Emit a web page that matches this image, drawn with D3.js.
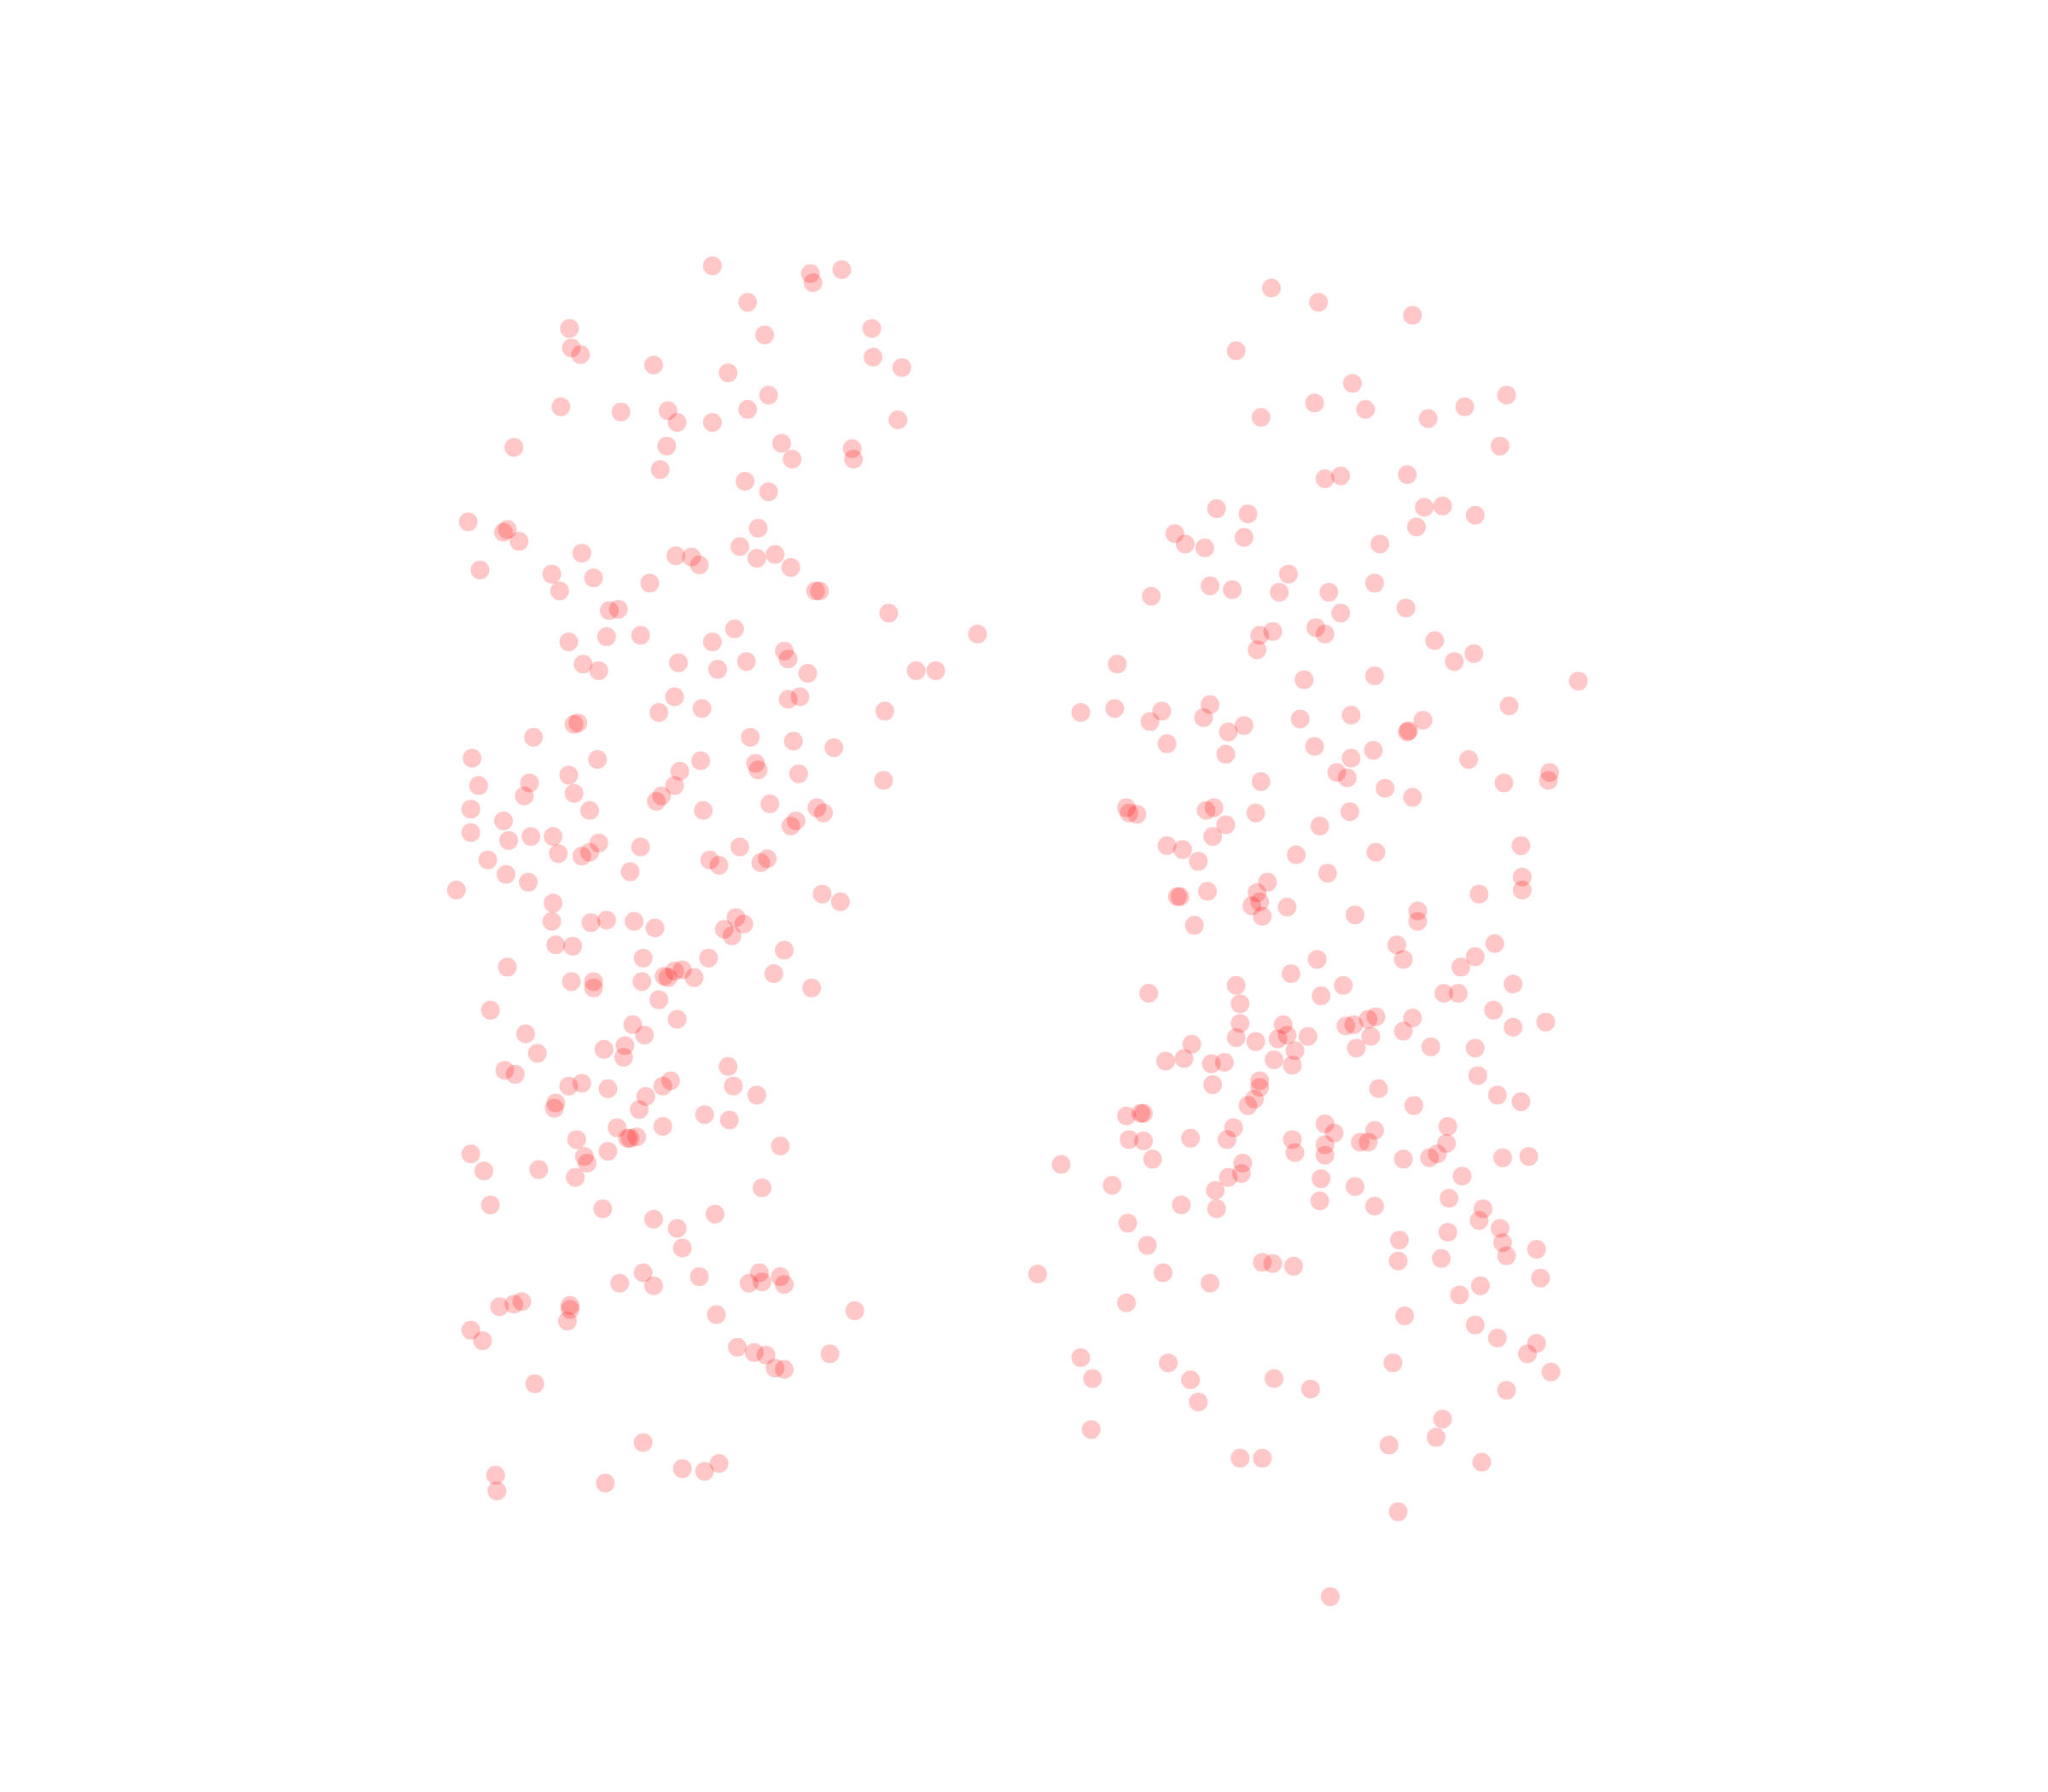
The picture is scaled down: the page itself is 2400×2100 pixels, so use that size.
<!DOCTYPE html>
<html><head><meta charset="utf-8">
<style>html,body{margin:0;padding:0;background:#fff}svg{display:block}</style>
<script src="https://cdn.jsdelivr.net/npm/d3@7/dist/d3.min.js"></script>
</head><body><div id="chart"></div>
<script>
const groupA = [[545,203],[572,231],[620,209],[622,216],[644,206],[585,256],[667,251],[435.5,251],[437,266],[444,271],[500,279],[557,285],[668,273],[690,281],[588,302],[429,311],[475,315],[511,314],[518,323],[545,323],[572,313],[687,321],[393,342],[510,341],[505,359],[598,339],[606,351],[652,343],[653,351],[570,368],[588,376],[358,399],[385,407],[388,405],[397,414],[580,404],[566,418],[445,423],[517,425],[529,426],[535,432],[579,427],[593,424],[605,434],[367,436],[422,439],[454,442],[428,452],[497,446],[624,452],[627,452],[466,467],[473,466],[680,469],[562,481],[435,491],[464,487],[490,486],[545,491],[600,498],[603,504],[748,485],[446,508],[458,513],[519,507],[549,512],[571,506],[618,515],[701,513],[716,513],[516,533],[603,535],[612,533],[504,545],[537,542],[677,544],[439,554],[442,553],[408,564],[574,564],[607,567],[638,572],[361,580],[457,581],[536,582],[578,584],[580,589],[435,593],[520,590],[611,592],[676,597],[366,601],[405,599],[401,609],[439,607],[516,601],[506,609],[502,613],[589,615],[360,619],[451,620],[538,620],[625,618],[630,622],[385,628],[609,628],[605,632],[360,637],[389,643],[406,640],[423,640],[427,653],[445,655],[451,652],[458,645],[490,648],[566,648],[587,657],[582,660],[543,658],[550,662],[373,658],[387,669],[404,675],[482,667],[349,681],[629,684],[643,690],[423,691],[422,705],[452,706],[464,704],[485,705],[501,710],[554,711],[563,702],[569,707],[560,716],[425,723],[438,724],[600,727],[492,733],[542,733],[388,740],[592,745],[437,751],[454,751],[454,756],[491,751],[508,747],[511,748],[516,743],[522,742],[531,748],[621,756],[504,765],[375,773],[484,784],[518,780],[402,791],[493,792],[478,800],[462,803],[477,809],[411,806],[557,816],[386,819],[394,822],[435,831],[445,829],[465,833],[507,831],[513,827],[561,831],[494,839],[579,838],[425,844],[424,848],[489,849],[539,853],[558,857],[472,863],[507,862],[441,872],[480,871],[482,871],[487,870],[597,877],[465,881],[360,883],[447,885],[449,890],[370,896],[412,895],[440,901],[583,909],[375,922],[461,925],[547,929],[500,933],[518,940],[522,955],[492,974],[474,982],[500,984],[535,977],[581,974],[573,982],[583,981],[597,977],[600,983],[382,1000],[393,998],[399,996],[436,999],[436,1002],[434,1011],[548,1006],[654,1003],[360,1018],[369,1026],[564,1031],[577,1035],[586,1037],[635,1036],[593,1047],[600,1048],[409,1059],[492,1104],[379,1129],[380,1141],[463,1135],[522,1124],[539,1126],[550,1120]];
const groupB = [[973,220],[1009,231],[1081,241],[946,268],[1035,293],[1006,308],[1045,313],[965,319],[1093,320],[1121,311],[1153,302],[1148,341],[1014,366],[1026,364],[1077,363],[931,389],[955,393],[1090,388],[1104,387],[1129,394],[1084,403],[899,408],[907,416],[922,419],[952,411],[1056,416],[986,439],[1052,446],[926,448],[943,451],[979,453],[1017,453],[881,456],[1026,469],[1076,465],[1007,480],[1014,485],[964,486],[974,483],[962,497],[1098,490],[1128,500],[1113,506],[855,508],[998,520],[1052,517],[1208,521],[1155,540],[827,545],[853,542],[889,544],[880,552],[921,549],[926,539],[952,555],[940,560],[995,550],[1034,547],[1089,551],[1078,559],[1077,560],[893,569],[1006,571],[938,577],[1051,574],[1034,580],[1124,581],[1023,591],[1031,595],[965,598],[1186,591],[1185,597],[1151,599],[1060,603],[1081,610],[862,618],[864,622],[870,623],[923,620],[929,618],[961,622],[1033,621],[938,631],[1010,632],[928,640],[893,647],[905,650],[917,659],[992,654],[1053,652],[1164,647],[1016,668],[1165,671],[1165,681],[970,675],[924,682],[962,683],[901,686],[903,686],[1132,684],[958,693],[964,690],[985,694],[966,701],[1037,700],[914,708],[1085,697],[1085,705],[1069,723],[1144,722],[1074,734],[1129,732],[1118,740],[1008,734],[988,745],[946,754],[1028,754],[1158,753],[879,760],[1011,762],[1105,760],[1116,760],[949,768],[1143,773],[949,783],[982,784],[1030,785],[1036,784],[1047,780],[1053,778],[1081,779],[1158,786],[1183,782],[946,794],[961,797],[978,795],[985,792],[1001,793],[1049,793],[1074,789],[912,799],[991,804],[1038,802],[1095,801],[1129,802],[892,812],[906,810],[927,814],[937,813],[975,811],[989,815],[1131,823],[928,830],[964,827],[964,832],[1055,833],[1146,838],[1164,843],[1082,846],[960,841],[955,846],[862,854],[873,852],[875,852],[1014,860],[1021,867],[1052,865],[1108,862],[944,863],[864,872],[875,873],[911,871],[939,872],[989,872],[1014,876],[1041,874],[1047,874],[1107,875],[991,882],[1014,884],[882,887],[812,891],[951,890],[1074,887],[1094,886],[1100,883],[1150,886],[1170,885],[940,901],[950,898],[1011,902],[1119,900],[851,907],[930,911],[1037,908],[1010,919],[904,922],[931,925],[1052,923],[1109,917],[1135,925],[1132,934],[863,936],[1148,940],[1108,943],[1071,949],[878,953],[1150,951],[1176,956],[1153,961],[1103,963],[1070,965],[966,966],[974,967],[990,969],[794,975],[890,974],[926,982],[1179,978],[1133,984],[1117,991],[862,997],[1075,1007],[1129,1014],[1146,1024],[1176,1028],[1169,1036],[827,1039],[894,1043],[1066,1043],[1187,1050],[836,1055],[911,1056],[975,1055],[1003,1063],[1153,1064],[917,1073],[1104,1086],[835,1094],[1099,1100],[1063,1106],[949,1116],[966,1116],[1134,1119],[1070,1157],[1018,1222]];

const W = 2400, H = 2100;
const x = d3.scaleLinear().domain([0,1568]).range([0.7,W+0.7]);
const y = d3.scaleLinear().domain([0,1372]).range([0.7,H+0.7]);
const svg = d3.select("#chart").append("svg").attr("width",W).attr("height",H);
[groupA, groupB].forEach(points => {
  svg.append("g").selectAll("circle").data(points).join("circle")
    .attr("cx", d => x(d[0])).attr("cy", d => y(d[1])).attr("r", 11)
    .attr("fill", "#ff0000").attr("fill-opacity", 0.22);
});
</script></body></html>
